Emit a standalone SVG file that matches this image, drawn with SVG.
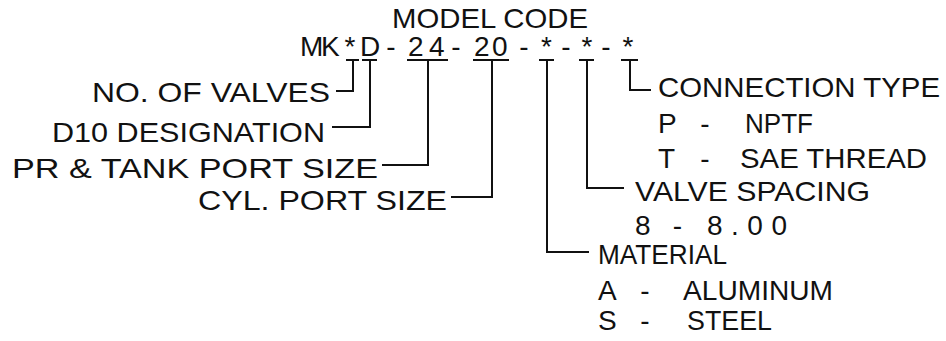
<svg xmlns="http://www.w3.org/2000/svg" width="946" height="341" viewBox="0 0 946 341">
<style>
text{font-family:"Liberation Sans",Arial,sans-serif;font-size:28px;fill:#111;}
.ln{fill:none;stroke:#111;stroke-width:2;stroke-linecap:square;stroke-linejoin:miter;}
</style>
<rect width="946" height="341" fill="#fff"/>
<g id="title"><text x="392" y="28" textLength="196" lengthAdjust="spacingAndGlyphs">MODEL CODE</text></g>
<g id="code"><text y="56"><tspan x="300 321 344.6 360">MK*D</tspan><tspan x="386.3">-</tspan><tspan x="408 429">24</tspan><tspan x="451.3">-</tspan><tspan x="474 492">20</tspan><tspan x="519.3">-</tspan><tspan x="541">*</tspan><tspan x="561.3">-</tspan><tspan x="581.5">*</tspan><tspan x="601.3">-</tspan><tspan x="622.5">*</tspan></text></g>
<g id="no-of-valves"><text x="92" y="102" textLength="238" lengthAdjust="spacingAndGlyphs">NO. OF VALVES</text></g>
<g id="d10-designation"><text x="52" y="142" textLength="273" lengthAdjust="spacingAndGlyphs">D10 DESIGNATION</text></g>
<g id="pr-tank-port-size"><text x="12" y="178" textLength="366" lengthAdjust="spacingAndGlyphs">PR &amp; TANK PORT SIZE</text></g>
<g id="cyl-port-size"><text x="198" y="210" textLength="249" lengthAdjust="spacingAndGlyphs">CYL. PORT SIZE</text></g>
<g id="connection-type">
<text x="658" y="97" textLength="282" lengthAdjust="spacingAndGlyphs">CONNECTION TYPE</text>
<text y="133"><tspan x="658">P </tspan><tspan x="700.3">- </tspan><tspan x="745" textLength="68" lengthAdjust="spacingAndGlyphs">NPTF</tspan></text>
<text y="168"><tspan x="658">T </tspan><tspan x="700.3">- </tspan><tspan x="740" textLength="187" lengthAdjust="spacingAndGlyphs">SAE THREAD</tspan></text>
</g>
<g id="valve-spacing">
<text x="635" y="201" textLength="235" lengthAdjust="spacingAndGlyphs">VALVE SPACING</text>
<text y="235"><tspan x="635">8 </tspan><tspan x="672.8">- </tspan><tspan x="707" textLength="80" lengthAdjust="spacing">8.00</tspan></text>
</g>
<g id="material">
<text x="598" y="264" textLength="129" lengthAdjust="spacingAndGlyphs">MATERIAL</text>
<text y="300"><tspan x="598">A </tspan><tspan x="640.3">- </tspan><tspan x="683" textLength="150" lengthAdjust="spacingAndGlyphs">ALUMINUM</tspan></text>
<text y="330"><tspan x="598">S </tspan><tspan x="640.3">- </tspan><tspan x="687" textLength="85" lengthAdjust="spacingAndGlyphs">STEEL</tspan></text>
</g>
<g id="connectors">
<path class="ln" d="M347 60H358M353 60V91H337"/>
<path class="ln" d="M363 60H376M370 60V127H333"/>
<path class="ln" d="M408 60H447M428 60V165H383"/>
<path class="ln" d="M474 60H508M492 60V197H452"/>
<path class="ln" d="M540 60H553M547 60V252H588"/>
<path class="ln" d="M580 60H593M587 60V188H623"/>
<path class="ln" d="M622 60H637M630 60V90H650"/>
</g>
</svg>
